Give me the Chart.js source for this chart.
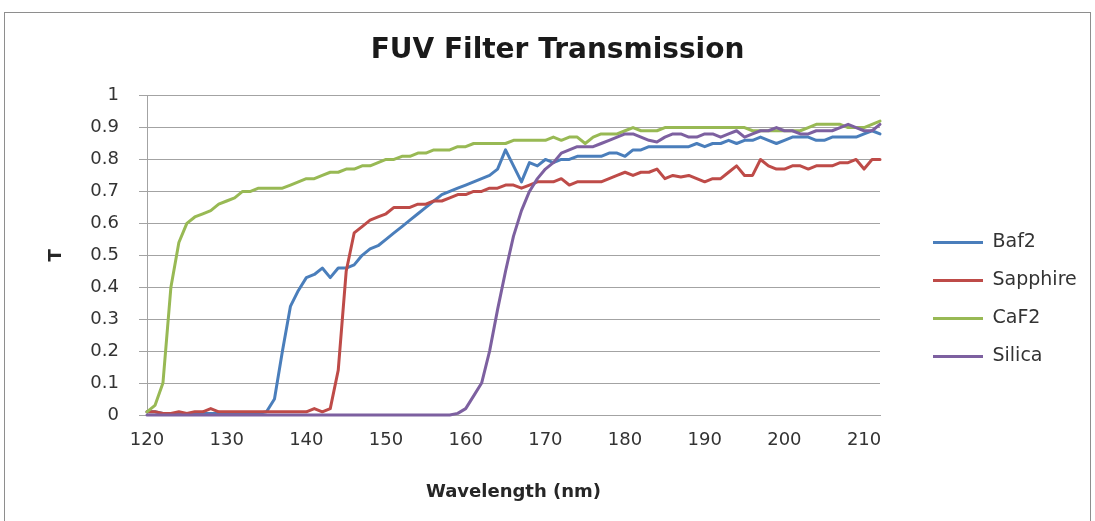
<!DOCTYPE html>
<html>
<head>
<meta charset="utf-8">
<title>FUV Filter Transmission</title>
<script src="https://cdn.jsdelivr.net/npm/chart.js@4.4.1/dist/chart.umd.min.js"></script>
<style>
  html, body { margin: 0; padding: 0; background: #fff; overflow: hidden; }
  #frame { position: absolute; left: 4px; top: 12px; width: 1085px; height: 540px; border: 1px solid #8e8e8e; }
  #wrap { position: absolute; left: 0; top: 0; width: 1095px; height: 521px; }
</style>
</head>
<body>
<div id="frame"></div>
<div id="wrap"><canvas id="chart"></canvas></div>
<script>
/* ---------- data ---------- */

const wavelength = [
  120, 121, 122, 123, 124, 125, 126, 127, 128, 129,
  130, 131, 132, 133, 134, 135, 136, 137, 138, 139,
  140, 141, 142, 143, 144, 145, 146, 147, 148, 149,
  150, 151, 152, 153, 154, 155, 156, 157, 158, 159,
  160, 161, 162, 163, 164, 165, 166, 167, 168, 169,
  170, 171, 172, 173, 174, 175, 176, 177, 178, 179,
  180, 181, 182, 183, 184, 185, 186, 187, 188, 189,
  190, 191, 192, 193, 194, 195, 196, 197, 198, 199,
  200, 201, 202, 203, 204, 205, 206, 207, 208, 209,
  210, 211, 212
];

const baf2 = [
  0.01, 0.01, 0.005, 0.005, 0.005, 0.005, 0.005, 0.005, 0.005, 0.005,
  0.005, 0.005, 0.005, 0.005, 0.005, 0.01, 0.05, 0.20, 0.34, 0.39,
  0.43, 0.44, 0.46, 0.43, 0.46, 0.46, 0.47, 0.50, 0.52, 0.53,
  0.55, 0.57, 0.59, 0.61, 0.63, 0.65, 0.67, 0.69, 0.70, 0.71,
  0.72, 0.73, 0.74, 0.75, 0.77, 0.83, 0.78, 0.73, 0.79, 0.78,
  0.80, 0.79, 0.80, 0.80, 0.81, 0.81, 0.81, 0.81, 0.82, 0.82,
  0.81, 0.83, 0.83, 0.84, 0.84, 0.84, 0.84, 0.84, 0.84, 0.85,
  0.84, 0.85, 0.85, 0.86, 0.85, 0.86, 0.86, 0.87, 0.86, 0.85,
  0.86, 0.87, 0.87, 0.87, 0.86, 0.86, 0.87, 0.87, 0.87, 0.87,
  0.88, 0.89, 0.88
];

const sapphire = [
  0.01, 0.01, 0.005, 0.005, 0.01, 0.005, 0.01, 0.01, 0.02, 0.01,
  0.01, 0.01, 0.01, 0.01, 0.01, 0.01, 0.01, 0.01, 0.01, 0.01,
  0.01, 0.02, 0.01, 0.02, 0.14, 0.45, 0.57, 0.59, 0.61, 0.62,
  0.63, 0.65, 0.65, 0.65, 0.66, 0.66, 0.67, 0.67, 0.68, 0.69,
  0.69, 0.70, 0.70, 0.71, 0.71, 0.72, 0.72, 0.71, 0.72, 0.73,
  0.73, 0.73, 0.74, 0.72, 0.73, 0.73, 0.73, 0.73, 0.74, 0.75,
  0.76, 0.75, 0.76, 0.76, 0.77, 0.74, 0.75, 0.745, 0.75, 0.74,
  0.73, 0.74, 0.74, 0.76, 0.78, 0.75, 0.75, 0.80, 0.78, 0.77,
  0.77, 0.78, 0.78, 0.77, 0.78, 0.78, 0.78, 0.79, 0.79, 0.80,
  0.77, 0.80, 0.80
];

const caf2 = [
  0.01, 0.03, 0.10, 0.40, 0.54, 0.60, 0.62, 0.63, 0.64, 0.66,
  0.67, 0.68, 0.70, 0.70, 0.71, 0.71, 0.71, 0.71, 0.72, 0.73,
  0.74, 0.74, 0.75, 0.76, 0.76, 0.77, 0.77, 0.78, 0.78, 0.79,
  0.80, 0.80, 0.81, 0.81, 0.82, 0.82, 0.83, 0.83, 0.83, 0.84,
  0.84, 0.85, 0.85, 0.85, 0.85, 0.85, 0.86, 0.86, 0.86, 0.86,
  0.86, 0.87, 0.86, 0.87, 0.87, 0.85, 0.87, 0.88, 0.88, 0.88,
  0.89, 0.90, 0.89, 0.89, 0.89, 0.90, 0.90, 0.90, 0.90, 0.90,
  0.90, 0.90, 0.90, 0.90, 0.90, 0.90, 0.89, 0.89, 0.89, 0.89,
  0.89, 0.89, 0.89, 0.90, 0.91, 0.91, 0.91, 0.91, 0.90, 0.90,
  0.90, 0.91, 0.92
];

const silica = [
  0, 0, 0, 0, 0, 0, 0, 0, 0, 0,
  0, 0, 0, 0, 0, 0, 0, 0, 0, 0,
  0, 0, 0, 0, 0, 0, 0, 0, 0, 0,
  0, 0, 0, 0, 0, 0, 0, 0, 0, 0.005,
  0.02, 0.06, 0.10, 0.20, 0.33, 0.45, 0.56, 0.64, 0.70, 0.74,
  0.77, 0.79, 0.82, 0.83, 0.84, 0.84, 0.84, 0.85, 0.86, 0.87,
  0.88, 0.88, 0.87, 0.86, 0.855, 0.87, 0.88, 0.88, 0.87, 0.87,
  0.88, 0.88, 0.87, 0.88, 0.89, 0.87, 0.88, 0.89, 0.89, 0.90,
  0.89, 0.89, 0.88, 0.88, 0.89, 0.89, 0.89, 0.90, 0.91, 0.90,
  0.89, 0.89, 0.91
];

const xTicks = [120, 130, 140, 150, 160, 170, 180, 190, 200, 210];
const yTicks = [0, 0.1, 0.2, 0.3, 0.4, 0.5, 0.6, 0.7, 0.8, 0.9, 1];

/* ---------- helpers ---------- */

function points(values) {
  return wavelength.map((w, i) => ({ x: w, y: values[i] }));
}

function series(label, values, color, order) {
  return {
    label: label,
    data: points(values),
    borderColor: color,
    backgroundColor: color,
    borderWidth: 3,
    borderJoinStyle: "round",
    borderCapStyle: "round",
    pointRadius: 0,
    tension: 0,
    fill: false,
    clip: false,
    order: order
  };
}

// legend sits in a fixed column right of the plot, like the Excel original
const legendPlacement = {
  id: "legendPlacement",
  beforeLayout(chart) {
    const lg = chart.legend;
    if (lg && !lg._fixedFit) {
      const fit = lg.fit;
      lg.fit = function () {
        fit.call(this);
        this.width = 195;
      };
      lg._fixedFit = true;
    }
  },
  afterLayout(chart) {
    const lg = chart.legend;
    lg.left = 914;
    lg.right = lg.left + lg.width;
    lg.top = 214;
    lg.bottom = 513;
  }
};

/* ---------- chart ---------- */

Chart.defaults.font.family = "'DejaVu Sans', sans-serif";
Chart.defaults.color = "#333";

const gridColor = "#a3a3a3";

new Chart(document.getElementById("chart"), {
  type: "line",
  data: {
    datasets: [
      series("Baf2", baf2, "#4A7EBB", 3),
      series("Sapphire", sapphire, "#BE4B48", 2),
      series("CaF2", caf2, "#98B954", 1),
      series("Silica", silica, "#7D60A0", 0)
    ]
  },
  options: {
    responsive: true,
    maintainAspectRatio: false,
    animation: false,
    layout: { padding: { left: 40, right: 20, top: 0, bottom: 8 } },
    plugins: {
      title: {
        display: true,
        text: "FUV Filter Transmission",
        color: "#1a1a1a",
        font: { size: 28, weight: "bold" },
        padding: { top: 34, bottom: 28 }
      },
      legend: {
        display: true,
        position: "right",
        align: "start",
        labels: {
          usePointStyle: true,
          pointStyle: "line",
          pointStyleWidth: 50,
          padding: 19,
          color: "#333",
          font: { size: 19 },
          sort: (a, b) => a.datasetIndex - b.datasetIndex
        }
      },
      tooltip: { enabled: false }
    },
    scales: {
      x: {
        type: "linear",
        min: 120,
        max: 212,
        afterBuildTicks: scale => { scale.ticks = xTicks.map(v => ({ value: v })); },
        afterFit: scale => { scale.height = 98; },
        ticks: {
          padding: 15,
          font: { size: 18 },
          color: "#333",
          maxRotation: 0,
          callback: v => String(v)
        },
        grid: { display: false, drawTicks: false },
        border: { display: true, color: gridColor, width: 1 },
        title: {
          display: true,
          text: "Wavelength (nm)",
          color: "#262626",
          font: { size: 18, weight: "bold" },
          padding: { top: 0, bottom: 10 }
        }
      },
      y: {
        min: 0,
        max: 1,
        afterBuildTicks: scale => { scale.ticks = yTicks.map(v => ({ value: v })); },
        afterFit: scale => { scale.width = 107; },
        ticks: {
          padding: 20,
          font: { size: 18 },
          color: "#333",
          callback: v => String(v)
        },
        grid: { color: gridColor, lineWidth: 1, drawTicks: true, tickLength: 8 },
        border: { display: true, color: gridColor, width: 1 },
        title: {
          display: true,
          text: "T",
          color: "#262626",
          font: { size: 18, weight: "bold" },
          padding: { top: 6, bottom: 0 }
        }
      }
    }
  },
  plugins: [legendPlacement]
});
</script>
</body>
</html>
